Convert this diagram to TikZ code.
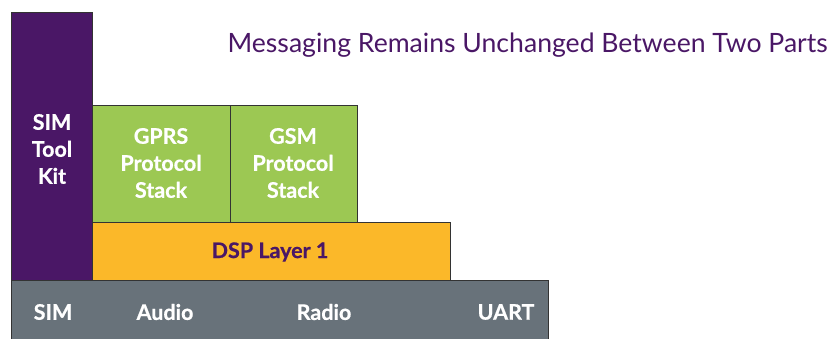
\documentclass[tikz,border=0pt]{standalone}
\usepackage{fontspec}
\setmainfont{Lato}
\newfontfamily\lblfont[BoldFeatures={FakeBold=0.6}]{Lato}
\definecolor{sPurple}{HTML}{4A1766}
\definecolor{sGreen}{HTML}{9CC853}
\definecolor{sOrange}{HTML}{FBB829}
\definecolor{sGray}{HTML}{68727A}
\definecolor{sEdge}{HTML}{333333}
\begin{document}
\begin{tikzpicture}[x=1pt,y=-1pt,
  blk/.style={draw=sEdge, line width=1.3pt, inner sep=0pt, anchor=north west},
  lbl/.style={text=white, font=\lblfont\fontsize{21.5}{27}\selectfont\bfseries, align=center},
]
\useasboundingbox (0,0) rectangle (832,339);
% bottom gray bar
\node[blk, fill=sGray, minimum width=537pt, minimum height=60pt] (base) at (11,280) {};
% SIM Tool Kit column
\node[blk, fill=sPurple, minimum width=81pt, minimum height=268pt] (stk) at (11,12) {};
% DSP layer
\node[blk, fill=sOrange, minimum width=358pt, minimum height=58pt] (dsp) at (92,222) {};
% protocol stacks
\node[blk, fill=sGreen, minimum width=138pt, minimum height=117pt] (gprs) at (92,105) {};
\node[blk, fill=sGreen, minimum width=127pt, minimum height=117pt] (gsm) at (230,105) {};
% labels
\node[lbl] (stkl) at (52,149) {SIM\\Tool\\Kit};
\node[lbl] (gprsl) at (161,163) {GPRS\\Protocol\\Stack};
\node[lbl] (gsml) at (293,163) {GSM\\Protocol\\Stack};
\node[lbl, text=sPurple] (dspl) at (270,252) {DSP Layer 1};
\node[lbl] (sim) at (53,312) {SIM};
\node[lbl] (audio) at (165,312) {Audio};
\node[lbl] (radio) at (324,312) {Radio};
\node[lbl] (uart) at (506,312) {UART};
% title
\node[anchor=base east, text=sPurple, font=\fontsize{26.6}{30}\selectfont, inner sep=0pt] (title) at (828,53) {Messaging Remains Unchanged Between Two Parts};
\end{tikzpicture}
\end{document}
